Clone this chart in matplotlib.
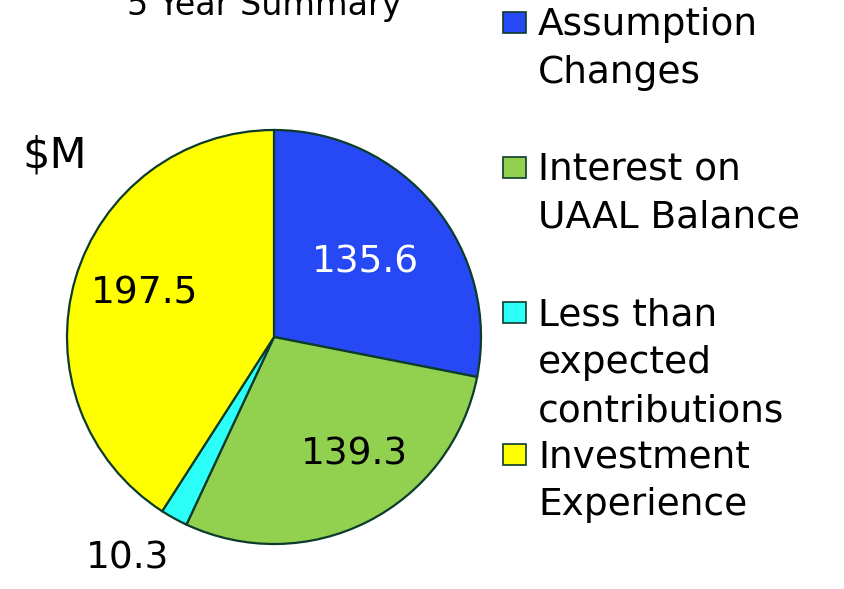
import numpy as np
import matplotlib
matplotlib.use("Agg")
from matplotlib import pyplot as plt
from matplotlib.patches import Rectangle

# data
categories = ["Assumption\nChanges", "Interest on\nUAAL Balance",
              "Less than\nexpected\ncontributions", "Investment\nExperience"]
values = [135.6, 139.3, 10.3, 197.5]
value_labels = ["135.6", "139.3", "10.3", "197.5"]
colors = ["#2648F5", "#92D050", "#2CFFF8", "#FFFF00"]
label_colors = ["white", "black", "black", "black"]
label_dist = [0.57, 0.69, 1.28, 0.66]
label_turn = [0, 7.5, -4.6, -2]   # small nudge (deg) off each wedge's middle

W, H = 844, 589
edge = "#0D3B2B"
plt.rcParams['font.family'] = ['DejaVu Sans']

def fx(px):
    return px / W

def fy(py):
    return 1 - py / H

fig = plt.figure(figsize=(W / 100, H / 100), dpi=100)
fig.patch.set_facecolor("white")

# pie axes: centre (274, 337) px, radius 207 px
cx, cy, r = 274, 337, 207
ax = fig.add_axes([fx(cx - r), fy(cy + r), 2 * r / W, 2 * r / H])
wedges, _ = ax.pie(values, colors=colors, startangle=90, counterclock=False,
                   wedgeprops=dict(edgecolor=edge, linewidth=1.6))
ax.set_xlim(-1, 1)
ax.set_ylim(-1, 1)
ax.set_aspect("equal")
ax.axis("off")

# value labels placed along each wedge's middle angle
for w, lab, col, d, t in zip(wedges, value_labels, label_colors, label_dist, label_turn):
    ang = np.deg2rad((w.theta1 + w.theta2) / 2 + t)
    ax.text(d * np.cos(ang), d * np.sin(ang), lab, color=col, fontsize=27,
            ha="center", va="center")

fig.text(fx(264), fy(15), "5 Year Summary", fontsize=24, ha="center",
         va="baseline")
fig.text(fx(22), fy(168), "$M", fontsize=31, ha="left", va="baseline")

# legend drawn by hand, entries spaced like the original
first_baselines = [35, 180, 325, 467]
line_step = 48
for cat, col, y0 in zip(categories, colors, first_baselines):
    fig.patches.append(Rectangle((fx(503), fy(y0 - 2)), 23 / W, 21 / H,
                                 transform=fig.transFigure, facecolor=col,
                                 edgecolor=edge, linewidth=1.2))
    for i, line in enumerate(cat.split("\n")):
        fig.text(fx(538), fy(y0 + i * line_step), line, fontsize=27,
                 ha="left", va="baseline")

fig.savefig("out.png", dpi=100)
